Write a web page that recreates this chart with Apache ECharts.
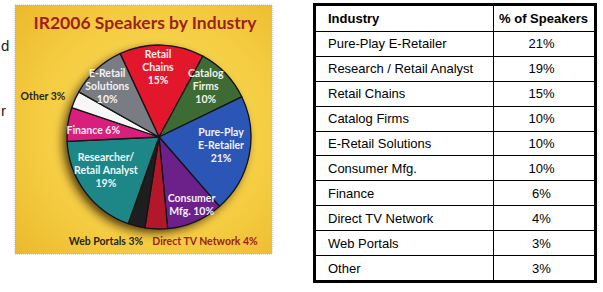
<!DOCTYPE html>
<html>
<head>
<meta charset="utf-8">
<script src="https://cdn.jsdelivr.net/npm/echarts@6/dist/echarts.min.js"></script>
<style>
  html, body { margin: 0; padding: 0; background: #ffffff; }
  #chart { width: 603px; height: 292px; }
</style>
</head>
<body>
<div id="chart"></div>
<script>
// Pie slices, clockwise from the top
const sliceNames = ['Retail Chains', 'Catalog Firms', 'Pure-Play E-Retailer', 'Consumer Mfg.', 'Direct TV Network',
  'Web Portals', 'Researcher/Retail Analyst', 'Finance', 'Other', 'E-Retail Solutions'];
const sliceValues = [15, 10, 21, 10, 4, 3, 19, 6, 3, 10];
const sliceLabels = ['Retail\nChains\n{c}%', 'Catalog\nFirms\n{c}%', 'Pure-Play\nE-Retailer\n{c}%', 'Consumer\nMfg. {c}%',
  'Direct TV Network {c}%', 'Web Portals {c}%', 'Researcher/\nRetail Analyst\n{c}%', 'Finance {c}%', 'Other {c}%',
  'E-Retail\nSolutions\n{c}%'];

// Table rows
const tableHeaders = ['Industry', '% of Speakers'];
const tableIndustries = ['Pure-Play E-Retailer', 'Research / Retail Analyst', 'Retail Chains', 'Catalog Firms',
  'E-Retail Solutions', 'Consumer Mfg.', 'Finance', 'Direct TV Network', 'Web Portals', 'Other'];
const tableShares = [21, 19, 15, 10, 10, 10, 6, 4, 3, 3];

const chartTitle = 'IR2006 Speakers by Industry';

// Styling
const sliceColors = ['#e3172c', '#3e6a34', '#2b56b6', '#6b2189', '#b3182a', '#1e1e1e', '#1d8788', '#d91f7c', '#f7f7f7', '#7a7c84'];
const labelColors = ['#f6f0f0', '#f2f2ea', '#f2f2f6', '#f4eef4', '#9e1d20', '#2a2520', '#f2f6f6', '#f8eef4', '#2a2520', '#f2f2f2'];

const PIE_CX = 159, PIE_CY = 137, PIE_R = 92, START = 115;

// label tweaks: inner labels nudged, outer labels placed around the pie
const labelNudge = {
  0: { dx: -3, dy: -3 }, 1: { dx: -2, dy: -4 }, 2: { dx: -4, dy: -5 }, 3: { dx: 6, dy: 6 },
  6: { dx: 1, dy: -7 }, 7: { dx: 1, dy: 2 }, 9: { dx: -6, dy: -2 }
};
const outerLabelAt = {
  4: { x: 205, y: 241 }, 5: { x: 106, y: 241 }, 8: { x: 43, y: 96 }
};

const chart = echarts.init(document.getElementById('chart'), null, { renderer: 'svg' });

const sliceData = sliceNames.map((n, i) => ({
  name: n,
  value: sliceValues[i],
  itemStyle: { color: sliceColors[i] }
}));

const labelData = sliceNames.map((n, i) => ({
  name: n,
  value: sliceValues[i],
  label: { formatter: sliceLabels[i], color: labelColors[i] }
}));

// table built from the row arrays
const T_LEFT = 313, T_TOP = 3, T_W = 284, T_H = 280, T_BORDER = 3, COL_X = 493;
const innerTop = T_TOP + T_BORDER, innerH = T_H - 2 * T_BORDER;
const rowCount = tableIndustries.length + 1;
const rowH = innerH / rowCount;
const tableEls = [];
tableEls.push({
  type: 'rect', shape: { x: T_LEFT + 1.5, y: T_TOP + 1.5, width: T_W - 3, height: T_H - 3 },
  style: { fill: '#ffffff', stroke: '#000000', lineWidth: 3 }, z: 1
});
for (let r = 1; r < rowCount; r++) {
  const y = Math.round(innerTop + r * rowH) + 0.5;
  tableEls.push({ type: 'line', shape: { x1: T_LEFT + 3, y1: y, x2: T_LEFT + T_W - 3, y2: y },
    style: { stroke: '#000000', lineWidth: 1 }, z: 2 });
}
tableEls.push({ type: 'line', shape: { x1: COL_X + 0.5, y1: innerTop, x2: COL_X + 0.5, y2: T_TOP + T_H - 3 },
  style: { stroke: '#000000', lineWidth: 1 }, z: 2 });
const col2Center = (COL_X + T_LEFT + T_W - 3) / 2;
const rowsText = [[tableHeaders[0], tableHeaders[1], true]].concat(
  tableIndustries.map((n, i) => [n, tableShares[i] + '%', false]));
rowsText.forEach((row, r) => {
  const cy = innerTop + (r + 0.5) * rowH + 0.5;
  tableEls.push({ type: 'text', x: 328, y: cy, z: 3,
    style: { text: row[0], fill: '#000000', font: (row[2] ? 'bold ' : '') + '13px "Liberation Sans", Arial, sans-serif',
      textAlign: 'left', textVerticalAlign: 'middle' } });
  tableEls.push({ type: 'text', x: row[2] ? col2Center : col2Center - 2, y: cy, z: 3,
    style: { text: row[1], fill: '#000000', font: (row[2] ? 'bold ' : '') + '13px "Liberation Sans", Arial, sans-serif',
      textAlign: 'center', textVerticalAlign: 'middle' } });
});

const option = {
  animation: false,
  backgroundColor: '#ffffff',
  graphic: {
    elements: [
      // magazine panel
      {
        type: 'rect', z: -10, shape: { x: 15, y: 5, width: 257, height: 249 },
        style: {
          fill: {
            type: 'radial', x: 0.55, y: 0.5, r: 0.75,
            colorStops: [{ offset: 0, color: '#f9dc5c' }, { offset: 0.6, color: '#f5cd42' }, { offset: 1, color: '#ecb82c' }]
          },
          stroke: '#b4b4c4', lineWidth: 1, lineDash: [1, 1]
        }
      },
      {
        type: 'text', z: -5, x: 145, y: 22,
        style: { text: chartTitle, fill: '#a01f1d', font: 'bold 17.5px Lato, "Open Sans", sans-serif',
          textAlign: 'center', textVerticalAlign: 'middle' }
      },
      // letters from the neighbouring column
      { type: 'text', z: -5, x: 1, y: 45, style: { text: 'd', fill: '#222', font: '15px "Liberation Sans", sans-serif', textVerticalAlign: 'middle' } },
      { type: 'text', z: -5, x: 1, y: 110, style: { text: 'r', fill: '#222', font: '15px "Liberation Sans", sans-serif', textVerticalAlign: 'middle' } }
    ].concat(tableEls)
  },
  series: [
    {
      // shadow disc under the pie
      type: 'pie', silent: true, z: 1,
      center: [PIE_CX, PIE_CY], radius: [0, PIE_R],
      label: { show: false }, labelLine: { show: false },
      itemStyle: { color: '#1a1a1a', shadowBlur: 10, shadowColor: 'rgba(50,25,0,0.8)', shadowOffsetX: -4, shadowOffsetY: 4 },
      data: [{ value: 1, name: 'base' }]
    },
    {
      type: 'pie', silent: true, z: 2,
      center: [PIE_CX, PIE_CY], radius: [0, PIE_R],
      startAngle: START, clockwise: true,
      label: { show: false }, labelLine: { show: false },
      itemStyle: { borderColor: '#141414', borderWidth: 1.3 },
      data: sliceData
    },
    {
      // label carrier: transparent, wider pie so inside labels sit at ~0.7 R
      type: 'pie', silent: true, z: 3,
      center: [PIE_CX, PIE_CY], radius: [0, PIE_R * 1.4],
      startAngle: START, clockwise: true,
      itemStyle: { color: 'rgba(0,0,0,0)', borderWidth: 0 },
      labelLine: { show: false },
      label: {
        show: true, position: 'inside', fontFamily: 'Lato, "Open Sans", sans-serif', fontWeight: 'bold',
        fontSize: 10.5, lineHeight: 13, align: 'center'
      },
      labelLayout: function (p) {
        const i = p.dataIndex;
        if (outerLabelAt[i]) {
          return { x: outerLabelAt[i].x, y: outerLabelAt[i].y, align: 'center', verticalAlign: 'middle' };
        }
        return labelNudge[i] || {};
      },
      data: labelData
    }
  ]
};
chart.setOption(option);
</script>
</body>
</html>
